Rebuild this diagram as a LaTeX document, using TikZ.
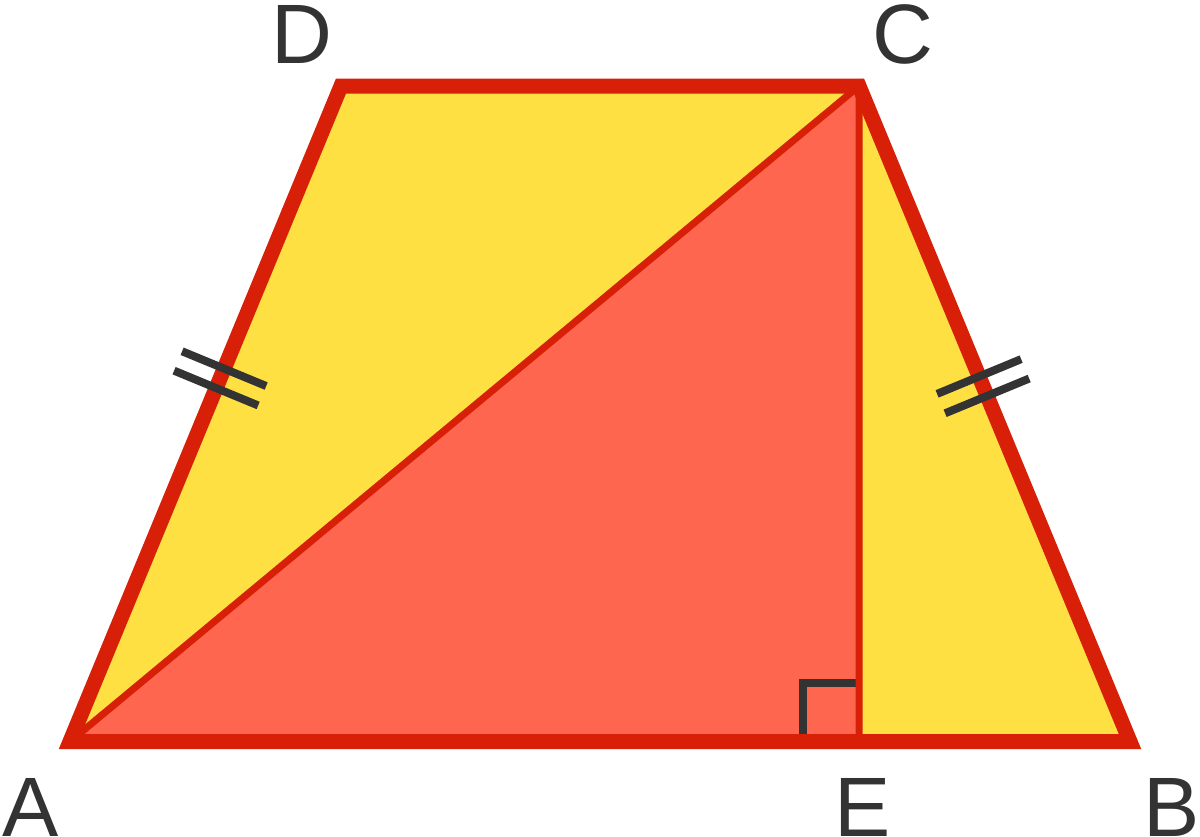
\documentclass[tikz,border=0pt]{standalone}
\usepackage{fontspec}
\setmainfont{Liberation Sans}
\usetikzlibrary{calc}
\definecolor{trapyellow}{HTML}{FFE042}
\definecolor{trapred}{HTML}{D81F07}
\definecolor{trisalmon}{HTML}{FF6650}
\definecolor{markgray}{HTML}{333333}
\tikzset{
    %Define style for the outline
    border/.style={
           draw=trapred,
           line width=0.3cm,
           line join=miter},
    %Define style for inner segments
    inner line/.style={
           draw=trapred,
           line width=0.14cm},
    %Define style for tick and angle marks
    marker/.style={
           draw=markgray,
           line width=0.16cm},
    %Define style for vertex labels
    vertex label/.style={
           text=markgray,
           font=\fontsize{48}{48}\selectfont,
           inner sep=0pt,
           anchor=base}
}

\begin{document}
\begin{tikzpicture}[x=0.02cm,y=-0.02cm]
\useasboundingbox (0,0) rectangle (1200,836);
\coordinate (A) at (70,741.5);
\coordinate (B) at (1130,741.5);
\coordinate (C) at (859,86);
\coordinate (D) at (341,86);
\coordinate (E) at (859,741.5);
% fills
\fill[trapyellow] (A) -- (B) -- (C) -- (D) -- cycle;
\fill[trisalmon] (A) -- (E) -- (C) -- cycle;
% right angle at E
\draw[marker] ($(E)+(-56,0)$) -- ($(E)+(-56,-58.5)$) -- ($(E)+(0,-58.5)$);
\draw[inner line] (A) -- (C) -- (E);
\draw[border] (A) -- (B) -- (C) -- (D) -- cycle;
% equal sides
\coordinate (m1) at ($(A)!0.554!(D)$);
\coordinate (m2) at ($(B)!0.542!(C)$);
\foreach \m/\e in {m1/D, m2/C}{
  \foreach \s in {0.21cm,-0.21cm}{
    \coordinate (t) at ($(\m)!\s!(\e)$);
    \draw[marker] ($(t)!0.91cm!90:(\e)$) -- ($(t)!0.91cm!-90:(\e)$);
  }
}
\node[vertex label] (lA) at (31,836) {A};
\node[vertex label] (lB) at (1172,836) {B};
\node[vertex label] (lC) at (903,63) {C};
\node[vertex label] (lD) at (302,63) {D};
\node[vertex label] (lE) at (863,836) {E};
\end{tikzpicture}
\end{document}
